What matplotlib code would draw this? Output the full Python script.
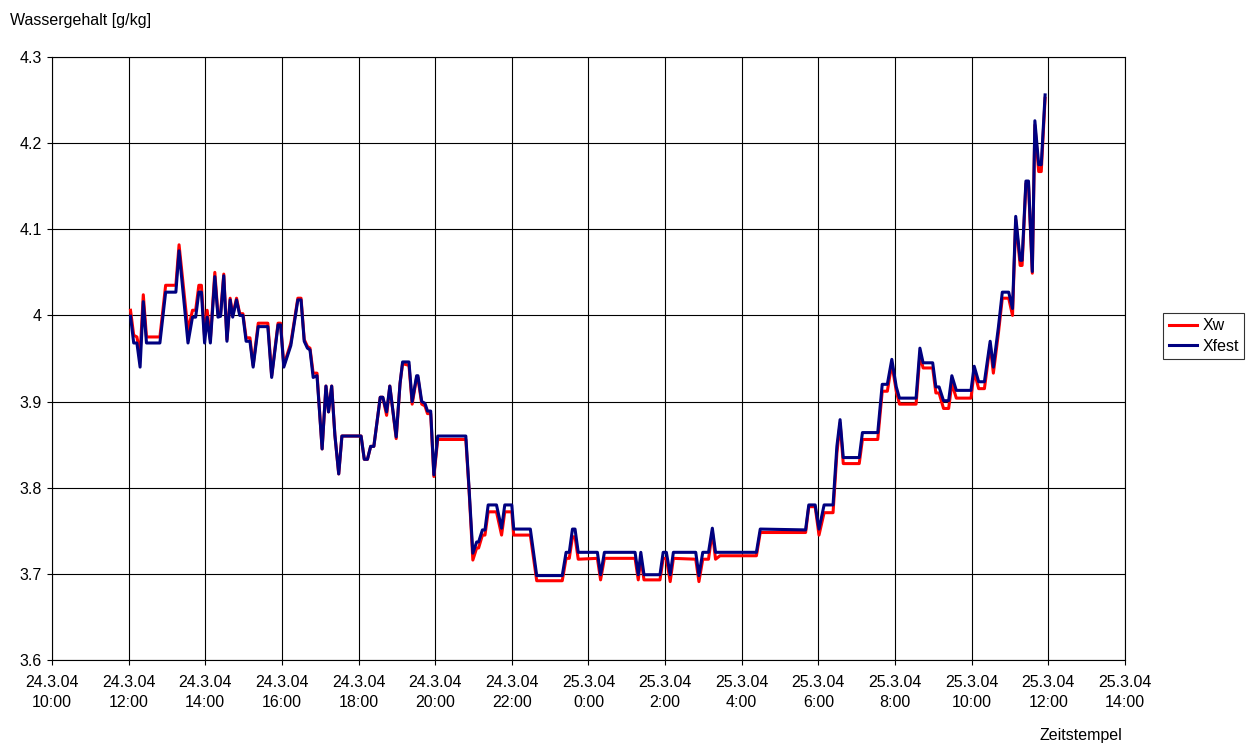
import datetime as dt

import matplotlib
matplotlib.use("Agg")
import matplotlib.pyplot as plt
import matplotlib.dates as mdates
from matplotlib.ticker import FuncFormatter, MultipleLocator

plt.rcParams["font.family"] = ["Liberation Sans", "DejaVu Sans"]

# Messzeitpunkte in Minuten ab 24.3.04 0:00
minuten = [
    723, 728, 733, 738, 743, 748, 769, 778, 794, 799, 813, 820, 825, 830, 834,
    839, 843, 848, 855, 860, 864, 869, 874, 879, 883, 889, 894, 899, 904, 910,
    915, 923, 938, 944, 954, 958, 963, 974, 985, 990, 995, 1000, 1004, 1009,
    1015, 1023, 1029, 1033, 1038, 1043, 1049, 1054, 1084, 1089, 1094, 1099,
    1104, 1114, 1118, 1124, 1129, 1139, 1145, 1149, 1159, 1164, 1171, 1173,
    1179, 1184, 1188, 1193, 1198, 1204, 1248, 1253, 1259, 1265, 1268, 1274,
    1278, 1283, 1296, 1304, 1309, 1320, 1323, 1349, 1359, 1399, 1405, 1410,
    1415, 1419, 1424, 1454, 1459, 1465, 1513, 1518, 1522, 1527, 1552, 1557,
    1562, 1568, 1573, 1608, 1613, 1619, 1628, 1634, 1639, 1646, 1703, 1709,
    1780, 1785, 1795, 1801, 1809, 1823, 1829, 1834, 1839, 1864, 1869, 1893,
    1900, 1908, 1915, 1922, 1927, 1953, 1959, 1964, 1979, 1984, 1989, 1996,
    2004, 2009, 2016, 2039, 2044, 2051, 2060, 2069, 2074, 2082, 2088, 2098,
    2104, 2109, 2116, 2119, 2125, 2129, 2135, 2139, 2145, 2149, 2155,
]

xfest = [
    3.999, 3.968, 3.968, 3.940, 4.016, 3.968, 3.968, 4.027, 4.027, 4.075, 3.968,
    3.998, 3.998, 4.027, 4.027, 3.968, 3.998, 3.968, 4.045, 3.998, 3.999, 4.046,
    3.970, 4.018, 3.998, 4.018, 4.000, 4.000, 3.970, 3.970, 3.940, 3.987, 3.987,
    3.928, 3.989, 3.989, 3.940, 3.965, 4.018, 4.018, 3.970, 3.962, 3.960, 3.928,
    3.930, 3.845, 3.918, 3.888, 3.918, 3.861, 3.816, 3.860, 3.860, 3.833, 3.833,
    3.848, 3.848, 3.905, 3.905, 3.888, 3.918, 3.859, 3.921, 3.946, 3.946, 3.900,
    3.930, 3.930, 3.900, 3.898, 3.889, 3.889, 3.815, 3.860, 3.860, 3.800, 3.724,
    3.737, 3.737, 3.751, 3.751, 3.780, 3.780, 3.753, 3.780, 3.780, 3.752, 3.752,
    3.698, 3.698, 3.725, 3.725, 3.752, 3.752, 3.725, 3.725, 3.699, 3.725, 3.725,
    3.699, 3.725, 3.699, 3.699, 3.725, 3.725, 3.699, 3.725, 3.725, 3.698, 3.725,
    3.725, 3.753, 3.725, 3.725, 3.725, 3.752, 3.751, 3.780, 3.780, 3.752, 3.780,
    3.780, 3.848, 3.879, 3.835, 3.835, 3.864, 3.864, 3.920, 3.920, 3.949, 3.917,
    3.904, 3.904, 3.962, 3.945, 3.945, 3.917, 3.917, 3.901, 3.901, 3.930, 3.913,
    3.913, 3.941, 3.923, 3.923, 3.970, 3.940, 3.987, 4.027, 4.027, 4.008, 4.115,
    4.064, 4.064, 4.156, 4.156, 4.051, 4.226, 4.175, 4.175, 4.256,
]

xw = [
    4.006, 3.977, 3.975, 3.955, 4.024, 3.975, 3.975, 4.035, 4.035, 4.082, 3.982,
    4.006, 4.006, 4.035, 4.035, 3.975, 4.006, 3.972, 4.050, 4.000, 4.002, 4.048,
    3.972, 4.020, 4.000, 4.020, 4.002, 4.002, 3.974, 3.974, 3.942, 3.991, 3.991,
    3.930, 3.991, 3.991, 3.942, 3.968, 4.020, 4.020, 3.972, 3.964, 3.962, 3.933,
    3.933, 3.845, 3.918, 3.888, 3.918, 3.861, 3.816, 3.860, 3.860, 3.833, 3.833,
    3.848, 3.848, 3.905, 3.905, 3.884, 3.918, 3.857, 3.921, 3.944, 3.942, 3.897,
    3.928, 3.928, 3.897, 3.895, 3.886, 3.886, 3.813, 3.856, 3.856, 3.798, 3.716,
    3.730, 3.730, 3.745, 3.745, 3.772, 3.772, 3.745, 3.772, 3.772, 3.745, 3.745,
    3.692, 3.692, 3.718, 3.718, 3.743, 3.743, 3.717, 3.718, 3.693, 3.718, 3.718,
    3.693, 3.718, 3.693, 3.693, 3.718, 3.718, 3.691, 3.718, 3.717, 3.691, 3.717,
    3.717, 3.749, 3.717, 3.721, 3.721, 3.748, 3.748, 3.778, 3.778, 3.745, 3.771,
    3.771, 3.840, 3.875, 3.828, 3.828, 3.856, 3.856, 3.912, 3.912, 3.944, 3.912,
    3.897, 3.897, 3.954, 3.939, 3.939, 3.910, 3.910, 3.892, 3.892, 3.921, 3.904,
    3.904, 3.935, 3.915, 3.915, 3.966, 3.933, 3.980, 4.020, 4.020, 4.000, 4.111,
    4.058, 4.058, 4.153, 4.153, 4.049, 4.221, 4.167, 4.167, 4.252,
]

start = dt.datetime(2004, 3, 24)
zeit = [start + dt.timedelta(minutes=m) for m in minuten]


def zeit_label(x, pos):
    d = mdates.num2date(x)
    return f"{d.day}.{d.month}.{d.strftime('%y')}\n{d.hour}:{d.minute:02d}"


fs = 11.5

fig = plt.figure(figsize=(12.52, 7.45), dpi=100)
ax = fig.add_axes([0.0415, 0.1141, 0.857, 0.8094])

ax.plot(zeit, xw, color="#ff0000", lw=2.2, label="Xw")
ax.plot(zeit, xfest, color="#000080", lw=2.2, label="Xfest")

# Achsen
ax.set_xlim(dt.datetime(2004, 3, 24, 10), dt.datetime(2004, 3, 25, 14))
ax.xaxis.set_major_locator(mdates.HourLocator(byhour=range(0, 24, 2)))
ax.xaxis.set_major_formatter(FuncFormatter(zeit_label))
ax.set_ylim(3.6, 4.3)
ax.yaxis.set_major_locator(MultipleLocator(0.1))
ax.yaxis.set_major_formatter(FuncFormatter(lambda v, p: f"{v:g}" if abs(v - 4) > 1e-9 else "4"))

ax.grid(True, color="black", lw=0.8)
ax.set_axisbelow(True)
for s in ax.spines.values():
    s.set_color("black")
    s.set_linewidth(0.8)
ax.tick_params(direction="out", length=3.6, width=0.8, labelsize=fs, colors="black")
ax.tick_params(axis="x", pad=7)
ax.tick_params(axis="y", pad=3.6)
for lbl in ax.get_xticklabels():
    lbl.set_linespacing(1.4)

fig.text(0.008, 0.973, "Wassergehalt [g/kg]", fontsize=fs, ha="left", va="center")
fig.text(0.896, 0.013, "Zeitstempel", fontsize=fs, ha="right", va="center")

leg = fig.legend(loc="center left", bbox_to_anchor=(0.929, 0.549), fontsize=fs,
                 frameon=True, fancybox=False, edgecolor="black", handlelength=1.8,
                 borderpad=0.35, labelspacing=0.35, handletextpad=0.3, borderaxespad=0)
leg.get_frame().set_linewidth(0.8)

fig.savefig("out.png", dpi=100)
